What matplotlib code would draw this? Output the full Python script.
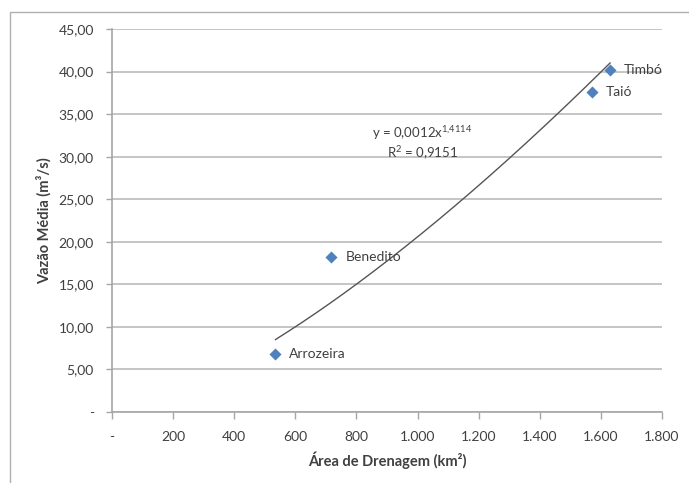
import numpy as np
import matplotlib
matplotlib.use("Agg")
import matplotlib.pyplot as plt
from matplotlib.ticker import FuncFormatter, MultipleLocator
from matplotlib.patches import Rectangle

# estações: área de drenagem (km²) x vazão média (m³/s)
estacoes = ["Arrozeira", "Benedito", "Taió", "Timbó"]
area = [535, 718, 1570, 1630]
vazao = [6.8, 18.2, 37.6, 40.2]

# linha de tendência potencial (y = a * x^b)
coef_a = 0.0012
coef_b = 1.4114
r2 = 0.9151

plt.rcParams["font.family"] = ["Lato", "DejaVu Sans"]
plt.rcParams["mathtext.fontset"] = "custom"
plt.rcParams["mathtext.rm"] = "Lato"
plt.rcParams["mathtext.it"] = "Lato"
plt.rcParams["mathtext.default"] = "regular"

fig = plt.figure(figsize=(6.89, 4.83), dpi=100)
ax = fig.add_axes([112 / 689, 1 - 412 / 483, 550 / 689, 383 / 483])

# moldura da área do gráfico
fig.patches.append(Rectangle((10 / 689, -0.05), 1.1, 1 - 12 / 483 + 0.05,
                             transform=fig.transFigure, fill=False,
                             edgecolor="#b0b0b0", linewidth=1.0))

ax.set_xlim(0, 1800)
ax.set_ylim(0, 45)
ax.xaxis.set_major_locator(MultipleLocator(200))
ax.yaxis.set_major_locator(MultipleLocator(5))


def fmt_x(v, pos):
    if v == 0:
        return "-"
    return f"{int(v):,}".replace(",", ".")


def fmt_y(v, pos):
    if v == 0:
        return "-"
    return f"{v:.2f}".replace(".", ",")


ax.xaxis.set_major_formatter(FuncFormatter(fmt_x))
ax.yaxis.set_major_formatter(FuncFormatter(fmt_y))

ax.grid(axis="y", color="#c0c0c0", linewidth=1.3)
ax.set_axisbelow(True)
for s in ["top", "right"]:
    ax.spines[s].set_visible(False)
for s in ["left", "bottom"]:
    ax.spines[s].set_color("#a6a6a6")
    ax.spines[s].set_linewidth(1.2)
ax.tick_params(axis="both", colors="#a6a6a6", labelcolor="#404040",
               labelsize=10, direction="out", width=1.0)
ax.tick_params(axis="y", length=4, pad=9)
ax.tick_params(axis="x", length=5, pad=9)

xs = np.linspace(min(area), max(area), 200)
ax.plot(xs, coef_a * xs ** coef_b, color="#555555", linewidth=1.0)

ax.scatter(area, vazao, marker="D", s=38, color="#4f81bd", zorder=3,
           linewidths=0)
for nome, x, y in zip(estacoes, area, vazao):
    ax.annotate(nome, (x, y), xytext=(10, 0), textcoords="offset points",
                va="center", ha="left", fontsize=10, color="#404040")

ax.text(1015, 32.8, "y = 0,0012x$^{1{,}4114}$", ha="center", va="center",
        fontsize=9.5, color="#404040")
ax.text(1015, 30.4, "R$^{2}$ = 0,9151", ha="center", va="center",
        fontsize=9.5, color="#404040")

ax.set_xlabel("Área de Drenagem (km²)", fontsize=10.5, fontweight="bold",
              color="#404040", labelpad=6)
ax.set_ylabel("Vazão Média (m³/s)", fontsize=10.5, fontweight="bold",
              color="#404040", labelpad=5)

fig.savefig("out.png", dpi=100, facecolor="white")
